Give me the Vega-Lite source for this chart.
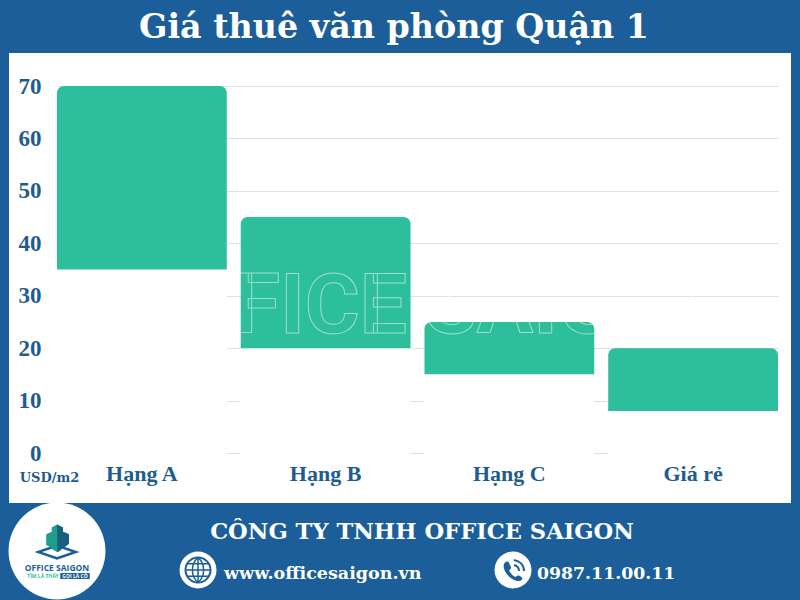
{
"$schema":"https://vega.github.io/schema/vega-lite/v6.json",
"width":782,"height":450,"autosize":"none",
"padding":{"left":9,"top":53,"right":9,"bottom":97},
"background":"#1b5e99",
"view":{"fill":"#ffffff","stroke":null},
"title":{"text":"Giá thuê văn phòng Quận 1","font":"DejaVu Serif","fontWeight":"bold","fontSize":33.3,"color":"#ffffff","anchor":"middle","offset":8,"dx":-6},
"config":{"font":"Liberation Serif"},
"layer":[
{"data":{"name":"rents","values":[
{"hang":"Hạng A","thap":35,"cao":70},
{"hang":"Hạng B","thap":20,"cao":45},
{"hang":"Hạng C","thap":15,"cao":25},
{"hang":"Giá rẻ","thap":8,"cao":20}]},
"layer":[
{"mark":{"type":"bar","fill":"#ffffff"},
"encoding":{
"x":{"field":"hang","type":"nominal","sort":null,"scale":{"range":[48,769],"paddingInner":0.076,"paddingOuter":0},
"axis":{"title":null,"labelAngle":0,"labelPadding":-40,"labelFont":"Liberation Serif","labelFontWeight":"bold","labelFontSize":22,"labelColor":"#1d5c8f","domain":false,"ticks":false,"grid":false}},
"y":{"field":"thap","type":"quantitative","scale":{"domain":[0,70],"range":[400,33],"nice":false},
"axis":{"title":"USD/m2","titleFont":"DejaVu Serif","titleFontWeight":"bold","titleFontSize":13,"titleColor":"#1d5c8f","titleAngle":0,"titleX":40,"titleY":424,"titleAlign":"center","titleBaseline":"middle",
"values":[0,10,20,30,40,50,60,70],"labelPadding":-32,"labelFont":"Liberation Serif","labelFontWeight":"bold","labelFontSize":23,"labelColor":"#1d5c8f","domain":false,"ticks":false,"grid":true,"gridColor":"#d5e1ec","gridWidth":1}},
"y2":{"datum":-0.3}}},
{"mark":{"type":"bar","fill":"#2dbe9b","cornerRadiusTopLeft":7,"cornerRadiusTopRight":7},
"encoding":{
"x":{"field":"hang","type":"nominal","sort":null},
"y":{"field":"thap","type":"quantitative"},
"y2":{"field":"cao"}}}
]},
{"data":{"values":[{"t":"OFFICE"}]},"mark":{"type":"text","x":398,"y":280,"font":"Roboto","fontSize":84,"fontWeight":"bold","baseline":"alphabetic","align":"right","fill":null,"stroke":"#ffffff","strokeOpacity":0.5,"strokeWidth":1},"encoding":{"text":{"field":"t"}}},
{"data":{"values":[{"t":"SAIGON"}]},"mark":{"type":"text","x":416,"y":280,"font":"Roboto","fontSize":84,"fontWeight":"bold","baseline":"alphabetic","align":"left","fill":null,"stroke":"#ffffff","strokeOpacity":0.5,"strokeWidth":1},"encoding":{"text":{"field":"t"}}},
{"data":{"values":[{"t":"CÔNG TY TNHH OFFICE SAIGON"}]},"mark":{"type":"text","x":413,"y":486,"font":"DejaVu Serif","fontWeight":"bold","fontSize":22.6,"fill":"#ffffff","baseline":"alphabetic"},"encoding":{"text":{"field":"t"}}},
{"data":{"values":[{"t":"www.officesaigon.vn"}]},"mark":{"type":"text","x":215,"y":526,"align":"left","font":"DejaVu Serif","fontWeight":"bold","fontSize":17.5,"fill":"#ffffff","baseline":"alphabetic"},"encoding":{"text":{"field":"t"}}},
{"data":{"values":[{"t":"0987.11.00.11"}]},"mark":{"type":"text","x":528,"y":526,"align":"left","font":"DejaVu Serif","fontWeight":"bold","fontSize":17.3,"fill":"#ffffff","baseline":"alphabetic"},"encoding":{"text":{"field":"t"}}},
{"data":{"values":[{"k":"logo"}]},"mark":{"type":"point","x":48,"y":498,"shape":"circle","size":9400,"filled":true,"fill":"#ffffff","opacity":1},"encoding":{}},
{"data":{"values":[{"k":"web"}]},"mark":{"type":"point","x":189,"y":517,"shape":"circle","size":1369,"filled":true,"fill":"#ffffff","opacity":1},"encoding":{}},
{"data":{"values":[{"k":"tel"}]},"mark":{"type":"point","x":504,"y":517,"shape":"circle","size":1369,"filled":true,"fill":"#ffffff","opacity":1},"encoding":{}},
{"data":{"values":[{"k":"globe"}]},"mark":{"type":"point","x":189,"y":517,"shape":"circle","size":625,"filled":false,"stroke":"#1b5e99","strokeWidth":2,"opacity":1},"encoding":{}},
{"data":{"values":[{"k":"globe2"}]},"mark":{"type":"point","x":189,"y":517,"shape":"M-1,0L1,0M-0.87,-0.5L0.87,-0.5M-0.87,0.5L0.87,0.5M0,-1L0,1M0,-1C-0.6,-0.5,-0.6,0.5,0,1M0,-1C0.6,-0.5,0.6,0.5,0,1","size":625,"filled":false,"stroke":"#1b5e99","strokeWidth":1.5,"opacity":1},"encoding":{}},
{"data":{"values":[{"k":"phone"}]},"mark":{"type":"point","x":504,"y":517,"shape":"M-0.45,-0.3C-0.35,-0.45,-0.25,-0.45,-0.2,-0.35L-0.1,-0.15C-0.08,-0.08,-0.15,-0.02,-0.2,0.02C-0.1,0.2,0,0.28,0.12,0.35C0.18,0.3,0.22,0.25,0.3,0.28L0.45,0.38C0.5,0.45,0.4,0.55,0.3,0.55C-0.1,0.55,-0.55,0.05,-0.45,-0.3Z","size":1600,"filled":true,"fill":"#1b5e99","opacity":1},"encoding":{}},
{"data":{"values":[{"k":"phone2"}]},"mark":{"type":"point","x":504,"y":517,"shape":"M0.05,-0.25C0.25,-0.2,0.3,-0.1,0.3,0.05M0.05,-0.5C0.35,-0.45,0.55,-0.25,0.55,0.05","size":1600,"filled":false,"stroke":"#1b5e99","strokeWidth":2,"opacity":1},"encoding":{}},
{"data":{"values":[{"k":"base"}]},"mark":{"type":"point","x":48,"y":499,"shape":"M-0.5,0L0,-0.17L0.5,0L0,0.17ZM-0.33,0L0,0.11L0.33,0L0,-0.11Z","size":8100,"filled":true,"fill":"#1b5e99","opacity":1},"encoding":{}},
{"data":{"values":[{"k":"tower"}]},"mark":{"type":"point","x":48,"y":486,"shape":"M-0.45,0.25L-0.45,-0.2L-0.22,-0.3L-0.22,-0.48L0,-0.6L0.25,-0.48L0.25,-0.3L0.5,-0.2L0.5,0.2L0.02,0.55L-0.22,0.42L-0.22,0.38Z","size":2300,"filled":true,"fill":"#1f9e8f","opacity":1},"encoding":{}},
{"data":{"values":[{"k":"towerside"}]},"mark":{"type":"point","x":48,"y":486,"shape":"M0,-0.6L0.25,-0.48L0.25,-0.3L0.5,-0.2L0.5,0.2L0.02,0.55Z","size":2300,"filled":true,"fill":"#17617f","opacity":1},"encoding":{}},
{"data":{"values":[{"k":"badge"}]},"mark":{"type":"point","x":66,"y":523,"shape":"M-1,-0.2L1,-0.2L1,0.2L-1,0.2Z","size":870,"filled":true,"fill":"#1b5e99","opacity":1},"encoding":{}},
{"data":{"values":[{"t":"OFFICE SAIGON"}]},"mark":{"type":"text","x":48,"y":518,"font":"Open Sans","fontWeight":"bold","fontSize":8.5,"fill":"#1b5e99","baseline":"alphabetic"},"encoding":{"text":{"field":"t"}}},
{"data":{"values":[{"t":"TÌM LÀ THẤY"}]},"mark":{"type":"text","x":34,"y":525,"font":"Open Sans","fontWeight":"bold","fontSize":5,"fill":"#2dbe9b","baseline":"alphabetic"},"encoding":{"text":{"field":"t"}}},
{"data":{"values":[{"t":"GỌI LÀ CÓ"}]},"mark":{"type":"text","x":66,"y":525,"font":"Open Sans","fontWeight":"bold","fontSize":5,"fill":"#ffffff","baseline":"alphabetic"},"encoding":{"text":{"field":"t"}}}
]
}
